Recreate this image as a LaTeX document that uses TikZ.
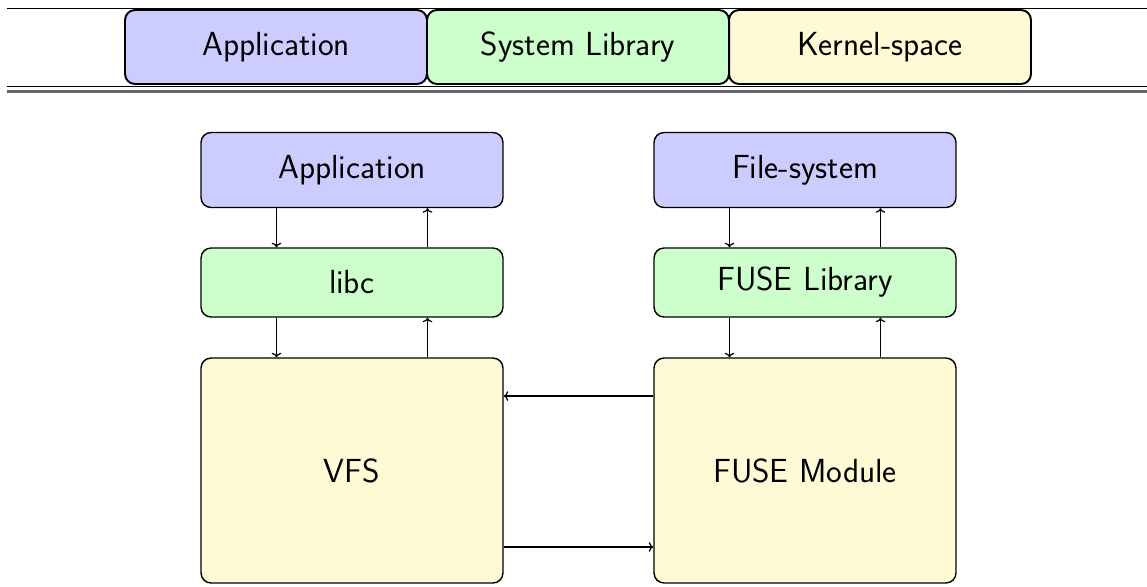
\documentclass[tikz,border=0pt]{standalone}
\usetikzlibrary{arrows.meta}
\definecolor{appcol}{RGB}{204,204,255}
\definecolor{libcol}{RGB}{204,255,204}
\definecolor{kercol}{RGB}{255,250,214}
\begin{document}
\begin{tikzpicture}[x=0.02cm,y=-0.02cm]
			\tikzstyle{every node}+=[font=\sffamily\fontsize{19}{22}\selectfont, inner sep=0pt]
			\tikzstyle{legbox}=[draw, line width=1.1pt, rounded corners=0.2cm, minimum width=6.04cm, minimum height=1.48cm]
			\tikzstyle{layer}=[draw, thick, rounded corners=0.2cm, minimum width=6.04cm]
			\tikzstyle{flow}=[-{To[length=2.6pt,width=5.5pt]}, line width=0.7pt]
			\useasboundingbox (0,0) rectangle (1147,586);

			\draw [black, line width=0.5pt] (7,8) -- (1147,8);
			\draw [black, line width=0.5pt] (7,86) -- (1147,86);
			\draw [black!60, line width=1.3pt] (7,91.5) -- (1147,91.5);
			\node [legbox, fill=appcol] (lapp) at (276,47) {Application};
			\node [legbox, fill=libcol] (llib) at (578,47) {System Library};
			\node [legbox, fill=kercol] (lker) at (880,47) {Kernel-space};

			\node [layer, fill=appcol, minimum height=1.5cm] (app) at (352,170) {Application};
			\node [layer, fill=libcol, minimum height=1.38cm] (libc) at (352,282.5) {libc};
			\node [layer, fill=kercol, minimum height=4.5cm] (vfs) at (352,470.5) {VFS};

			\node [layer, fill=appcol, minimum height=1.5cm] (fs) at (805,170) {File-system};
			\node [layer, fill=libcol, minimum height=1.38cm] (fuselib) at (805,282.5) {FUSE Library};
			\node [layer, fill=kercol, minimum height=4.5cm] (fusemod) at (805,470.5) {FUSE Module};

			\draw [flow] ([xshift=-1.51cm]app.south) -- ([xshift=-1.51cm]libc.north);
			\draw [flow] ([xshift=1.51cm]libc.north) -- ([xshift=1.51cm]app.south);
			\draw [flow] ([xshift=-1.51cm]libc.south) -- ([xshift=-1.51cm]vfs.north);
			\draw [flow] ([xshift=1.51cm]vfs.north) -- ([xshift=1.51cm]libc.south);

			\draw [flow] ([xshift=-1.51cm]fs.south) -- ([xshift=-1.51cm]fuselib.north);
			\draw [flow] ([xshift=1.51cm]fuselib.north) -- ([xshift=1.51cm]fs.south);
			\draw [flow] ([xshift=-1.51cm]fuselib.south) -- ([xshift=-1.51cm]fusemod.north);
			\draw [flow] ([xshift=1.51cm]fusemod.north) -- ([xshift=1.51cm]fuselib.south);

			\draw [flow] ([yshift=1.49cm]fusemod.west) -- ([yshift=1.49cm]vfs.east);
			\draw [flow] ([yshift=-1.53cm]vfs.east) -- ([yshift=-1.53cm]fusemod.west);
		\end{tikzpicture}
\end{document}
